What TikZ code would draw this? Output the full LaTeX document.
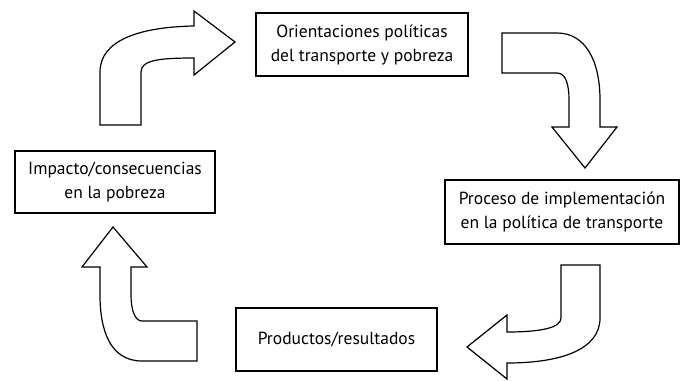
\documentclass[tikz,border=0pt]{standalone}
\usepackage{fontspec}
\setmainfont{PT Sans}
\usepackage{tikz}
\usetikzlibrary{positioning}
\tikzset{
  txtbox/.style={ draw, line width=1.5pt, align=center, inner sep=0pt,
    font=\fontsize{17.5}{24}\selectfont }
}
\tikzset{
  bentarr/.style={ draw, line width=1.2pt, fill=white, line join=miter }
}

\begin{document}
\begin{tikzpicture}[x=1pt, y=-1pt]
      \useasboundingbox (0,0) rectangle (687,380);

      \node[txtbox, minimum width=212pt, minimum height=63pt] (orient) at (362, 44.5)
        {Orientaciones políticas\\del transporte y pobreza};
      \node[txtbox, minimum width=234pt, minimum height=64pt] (proc) at (562, 212)
        {Proceso de implementación\\en la política de transporte};
      \node[txtbox, minimum width=201pt, minimum height=63pt] (prod) at (336.5, 339.5)
        {Productos/resultados};
      \node[txtbox, minimum width=200pt, minimum height=62pt] (imp) at (115, 182)
        {Impacto/consecuencias\\en la pobreza};

      % block arrows between the boxes
      \draw[bentarr] (100,125) -- (100,72) .. controls (100,40) and (140,27) .. (194,26)
        -- (194,11) -- (235,42) -- (194,75) -- (194,58)
        .. controls (160,58) and (141,60) .. (141,72) -- (141,125) -- cycle;

      \draw[bentarr] (502,33) -- (557,33) .. controls (585,33) and (600,60) .. (600,100)
        -- (600,127) -- (617,127) -- (585,168) -- (552,127) -- (569,127) -- (569,100)
        .. controls (569,85) and (566,73) .. (557,73) -- (502,73) -- cycle;

      \draw[bentarr] (561,265) -- (600,265) -- (600,318)
        .. controls (600,350) and (560,363) .. (507,363) -- (507,379) -- (467,347)
        -- (507,315) -- (507,332) .. controls (540,332) and (561,328) .. (561,318) -- cycle;

      \draw[bentarr] (197,361) -- (142,361) .. controls (110,361) and (100,330) .. (100,295)
        -- (100,267) -- (82,267) -- (113,227) -- (147,267) -- (131,267) -- (131,295)
        .. controls (131,310) and (135,321) .. (142,321) -- (197,321) -- cycle;
    \end{tikzpicture}
\end{document}
